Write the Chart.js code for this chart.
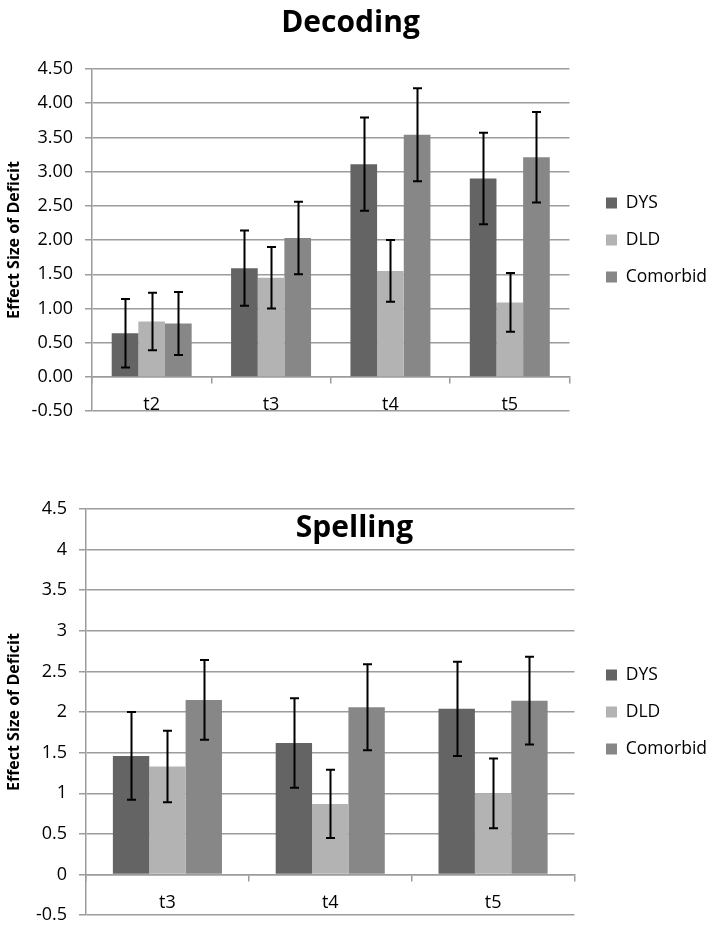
<!DOCTYPE html>
<html>
<head>
<meta charset="utf-8">
<script src="https://cdn.jsdelivr.net/npm/chart.js@4.4.1/dist/chart.umd.min.js"></script>
<style>
  html, body { margin: 0; padding: 0; background: #fff; overflow: hidden; }
  #wrap { position: relative; width: 709px; height: 928px; overflow: hidden; }
  canvas { position: absolute; left: 0; }
  #decoding { top: 0; }
  #spelling { top: 460px; }
</style>
</head>
<body>
<div id="wrap">
  <canvas id="decoding" width="709" height="434"></canvas>
  <canvas id="spelling" width="709" height="478"></canvas>
</div>
<script>
// --- data ---
const seriesNames = ['DYS', 'DLD', 'Comorbid'];
const seriesColors = ['#646464', '#b3b3b3', '#878787'];

const decodingCategories = ['t2', 't3', 't4', 't5'];
const decodingDYS = [0.64, 1.59, 3.11, 2.90];
const decodingDLD = [0.81, 1.45, 1.55, 1.09];
const decodingComorbid = [0.78, 2.03, 3.54, 3.21];
const decodingErrDYS = [0.50, 0.55, 0.68, 0.67];
const decodingErrDLD = [0.42, 0.45, 0.45, 0.43];
const decodingErrComorbid = [0.46, 0.53, 0.68, 0.66];
const decodingTickLabels = ['-0.50', '0.00', '0.50', '1.00', '1.50', '2.00', '2.50', '3.00', '3.50', '4.00', '4.50'];

const spellingCategories = ['t3', 't4', 't5'];
const spellingDYS = [1.46, 1.62, 2.04];
const spellingDLD = [1.33, 0.87, 1.00];
const spellingComorbid = [2.15, 2.06, 2.14];
const spellingErrDYS = [0.54, 0.55, 0.58];
const spellingErrDLD = [0.44, 0.42, 0.43];
const spellingErrComorbid = [0.49, 0.53, 0.54];
const spellingTickLabels = ['-0.5', '0', '0.5', '1', '1.5', '2', '2.5', '3', '3.5', '4', '4.5'];

const FONT = "'Open Sans', 'Liberation Sans', sans-serif";
const gridColor = '#9c9c9c';

// error bars drawn from each bar element + the y scale
const errorBars = {
    id: 'errorBars',
    afterDatasetsDraw(chart) {
        const ctx = chart.ctx;
        const yScale = chart.scales.y;
        ctx.save();
        ctx.strokeStyle = '#000';
        ctx.lineWidth = 2;
        chart.data.datasets.forEach((ds, i) => {
            const meta = chart.getDatasetMeta(i);
            meta.data.forEach((bar, j) => {
                const v = ds.data[j], e = ds.errors[j];
                const yHi = yScale.getPixelForValue(v + e);
                const yLo = yScale.getPixelForValue(v - e);
                const x = Math.round(bar.x) + 0.5;
                ctx.beginPath();
                ctx.moveTo(x, yHi); ctx.lineTo(x, yLo);
                ctx.moveTo(x - 4.5, yHi); ctx.lineTo(x + 4.5, yHi);
                ctx.moveTo(x - 4.5, yLo); ctx.lineTo(x + 4.5, yLo);
                ctx.stroke();
            });
        });
        ctx.restore();
    }
};

// leftShift: negative left padding (and a wider y axis to make up for it) keeps the title centred
function buildChart(id, categories, values, errors, tickLabels, titleOpts, padding, yWidth, legendGap, leftShift) {
    return new Chart(document.getElementById(id), {
        type: 'bar',
        data: {
            labels: categories,
            datasets: seriesNames.map((name, i) => ({
                label: name,
                data: values[i],
                errors: errors[i],
                backgroundColor: seriesColors[i],
                borderWidth: 0,
                categoryPercentage: 0.67,
                barPercentage: 1.0
            }))
        },
        options: {
            responsive: false,
            animation: false,
            devicePixelRatio: 1,
            layout: { padding: Object.assign({}, padding, { left: -leftShift }) },
            plugins: {
                title: titleOpts,
                legend: {
                    position: 'right',
                    fullSize: false,
                    maxWidth: 200,
                    labels: {
                        boxWidth: 11,
                        boxHeight: 11,
                        padding: 19.5,
                        color: '#000',
                        font: { family: FONT, size: 17.5 }
                    }
                },
                tooltip: { enabled: false }
            },
            scales: {
                x: {
                    position: { y: 0 },
                    grid: {
                        offset: true,
                        drawOnChartArea: false,
                        drawTicks: true,
                        tickLength: 6,
                        color: gridColor,
                        lineWidth: 1.5
                    },
                    border: { display: true, color: gridColor, width: 1.5 },
                    ticks: { color: '#000', padding: 11, font: { family: FONT, size: 18 } }
                },
                y: {
                    min: -0.5,
                    max: 4.5,
                    afterFit: (scale) => { scale.width = yWidth + leftShift; },
                    title: {
                        display: true,
                        text: 'Effect Size of Deficit',
                        color: '#000',
                        padding: { top: 5 + leftShift, bottom: 0 },
                        font: { family: FONT, size: 16, weight: 'bold' }
                    },
                    grid: { color: gridColor, lineWidth: 1.5, tickLength: 7 },
                    border: { color: gridColor, width: 1.5 },
                    ticks: {
                        stepSize: 0.5,
                        color: '#000',
                        padding: 12,
                        font: { family: FONT, size: 18 },
                        callback: (v, i) => tickLabels[i]
                    }
                },
                // empty axis only used to leave room between the plot and the legend
                gap: {
                    type: 'linear',
                    position: 'right',
                    display: true,
                    grid: { display: false },
                    border: { display: false },
                    ticks: { display: false },
                    afterFit: (scale) => { scale.width = legendGap; }
                }
            }
        },
        plugins: [errorBars]
    });
}

// the legend box carries some spare width on its right, so the right padding is negative
buildChart('decoding', decodingCategories,
    [decodingDYS, decodingDLD, decodingComorbid],
    [decodingErrDYS, decodingErrDLD, decodingErrComorbid],
    decodingTickLabels,
    {
        display: true,
        text: 'Decoding',
        color: '#000',
        font: { family: FONT, size: 30, weight: 'bold' },
        padding: { top: 5, bottom: 28 }
    },
    { top: 0, bottom: 17, right: -8 }, 92, 17, 16);

// Spelling title sits inside the plot area, so its box is shrunk with a negative bottom padding
buildChart('spelling', spellingCategories,
    [spellingDYS, spellingDLD, spellingComorbid],
    [spellingErrDYS, spellingErrDLD, spellingErrComorbid],
    spellingTickLabels,
    {
        display: true,
        text: 'Spelling',
        color: '#000',
        font: { family: FONT, size: 30, weight: 'bold' },
        padding: { top: 50, bottom: -37 }
    },
    { top: 0, bottom: 3, right: -8 }, 86, 12, 8);
</script>
</body>
</html>
